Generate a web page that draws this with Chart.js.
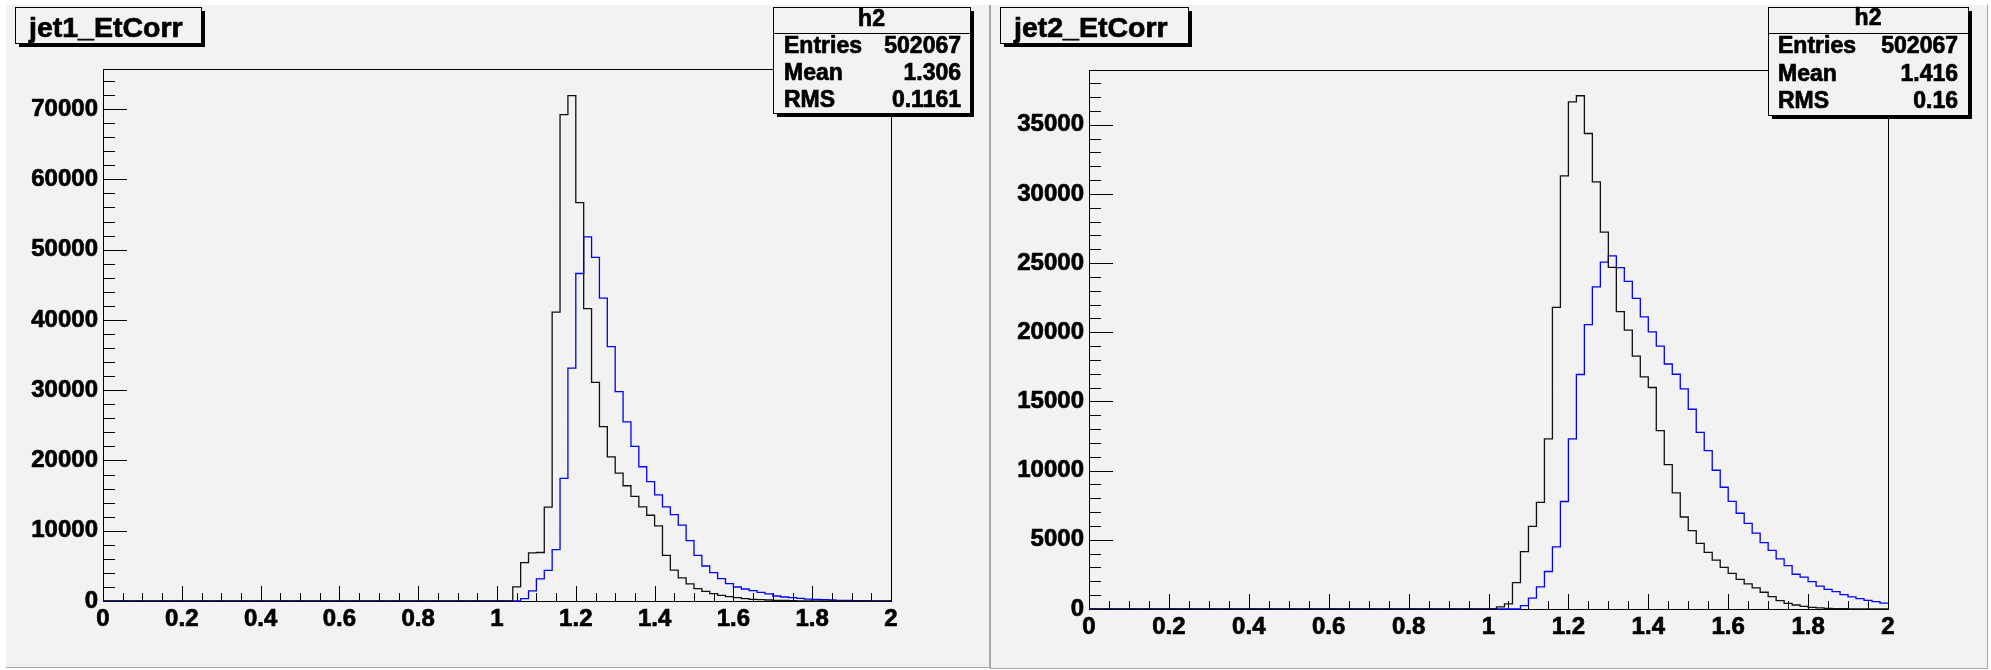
<!DOCTYPE html>
<html lang="en">
  <head>
    <meta charset="UTF-8" />
    <script src="https://cdn.jsdelivr.net/npm/chart.js@4.4.0/dist/chart.umd.min.js"></script>
    <title>jet EtCorr</title>
    <style>
      html, body { margin: 0; padding: 0; background: #fff; width: 1991px; height: 670px; overflow: hidden; }
      .pad { position: absolute; background: #f2f2f2; box-sizing: border-box; }
      #padL { left: 6px; top: 5px; width: 984px; height: 663px; border-right: 1px solid #a8a8a8; border-bottom: 1px solid #a8a8a8; }
      #padR { left: 990px; top: 5px; width: 998px; height: 664px; border-left: 1px solid #a8a8a8; border-right: 1px solid #a8a8a8; border-bottom: 1px solid #a8a8a8; }
      canvas { position: absolute; top: 0; }
    </style>
  </head>
  <body>
    <div class="pad" id="padL"></div>
    <div class="pad" id="padR"></div>
    <canvas id="c1" width="990" height="670" style="left:0"></canvas>
    <canvas id="c2" width="1001" height="670" style="left:990px"></canvas>
    <script>
      // histogram binning: 100 bins from 0 to 2
      const nBins = 100;
      const xMin = 0;
      const xMax = 2;
      const xTicks = [0, 0.2, 0.4, 0.6, 0.8, 1, 1.2, 1.4, 1.6, 1.8, 2];

      // jet1_EtCorr (bins 0..99)
      const jet1Black = [
        0, 0, 0, 0, 0, 0, 0, 0, 0, 0,
        0, 0, 0, 0, 0, 0, 0, 0, 0, 0,
        0, 0, 0, 0, 0, 0, 0, 0, 0, 0,
        0, 0, 0, 0, 0, 0, 0, 0, 0, 0,
        0, 0, 0, 0, 0, 0, 0, 0, 0, 0,
        0, 0, 2000, 5450, 6850, 6900, 13370, 41100, 69200, 71900,
        56700, 41600, 31100, 24800, 20500, 18200, 16400, 14900, 13400, 12200,
        10700, 6500, 4400, 3300, 2450, 1750, 1380, 1040, 800, 620,
        470, 330, 240, 190, 140, 100, 70, 50, 30, 20,
        10, 10, 0, 0, 0, 0, 0, 0, 0, 0
      ];
      const jet1Blue = [
        0, 0, 0, 0, 0, 0, 0, 0, 0, 0,
        0, 0, 0, 0, 0, 0, 0, 0, 0, 0,
        0, 0, 0, 0, 0, 0, 0, 0, 0, 0,
        0, 0, 0, 0, 0, 0, 0, 0, 0, 0,
        0, 0, 0, 0, 0, 0, 0, 0, 0, 0,
        0, 0, 0, 330, 1450, 3150, 4350, 7300, 17450, 33150,
        46600, 51800, 48900, 43100, 36200, 29800, 25500, 22000, 19100, 17000,
        15100, 13400, 12300, 10800, 8600, 6500, 4980, 4030, 3180, 2470,
        1990, 1710, 1470, 1230, 1000, 710, 570, 470, 380, 280,
        240, 190, 140, 100, 70, 50, 40, 30, 20, 10
      ];
      const jet1YMax = 75700;
      const jet1YTicks = [0, 10000, 20000, 30000, 40000, 50000, 60000, 70000];
      const jet1Stats = ["502067", "1.306", "0.1161"];

      // jet2_EtCorr (bins 0..99)
      const jet2Black = [
        0, 0, 0, 0, 0, 0, 0, 0, 0, 0,
        0, 0, 0, 0, 0, 0, 0, 0, 0, 0,
        0, 0, 0, 0, 0, 0, 0, 0, 0, 0,
        0, 0, 0, 0, 0, 0, 0, 0, 0, 0,
        0, 0, 0, 0, 0, 0, 0, 0, 0, 0,
        0, 150, 370, 1900, 4150, 5970, 7700, 12300, 21800, 31300,
        36650, 37100, 34370, 30880, 27240, 24700, 21500, 20160, 18280, 16780,
        16010, 12900, 10440, 8390, 6650, 5660, 4750, 4100, 3540, 3010,
        2580, 2140, 1810, 1520, 1210, 890, 600, 410, 290, 190,
        120, 80, 50, 30, 20, 10, 0, 0, 0, 0
      ];
      const jet2Blue = [
        0, 0, 0, 0, 0, 0, 0, 0, 0, 0,
        0, 0, 0, 0, 0, 0, 0, 0, 0, 0,
        0, 0, 0, 0, 0, 0, 0, 0, 0, 0,
        0, 0, 0, 0, 0, 0, 0, 0, 0, 0,
        0, 0, 0, 0, 0, 0, 0, 0, 0, 0,
        0, 0, 0, 0, 250, 790, 1600, 2710, 4490, 7770,
        12290, 16950, 20550, 23290, 25070, 25530, 24670, 23680, 22450, 21120,
        20030, 19000, 17710, 16970, 15910, 14440, 12770, 11450, 10030, 8800,
        7780, 6920, 6190, 5490, 4800, 4240, 3620, 3130, 2510, 2310,
        1980, 1660, 1420, 1250, 1040, 870, 750, 630, 530, 430
      ];
      const jet2YMax = 38960;
      const jet2YTicks = [0, 5000, 10000, 15000, 20000, 25000, 30000, 35000];
      const jet2Stats = ["502067", "1.416", "0.16"];

      const statsLabels = ["Entries", "Mean", "RMS"];
      const statsName = "h2";

      const FONT = "'Liberation Sans', Arial, Helvetica, sans-serif";
      const BG = "#f2f2f2";

      function steps(vals) {
        const binW = (xMax - xMin) / nBins;
        const pts = vals.map((v, i) => ({ x: xMin + i * binW, y: v }));
        pts.push({ x: xMax, y: vals[vals.length - 1] });
        return pts;
      }

      function pave(ctx, b) {
        ctx.fillStyle = "#000";
        ctx.fillRect(b.x + 4, b.y + 4, b.w, b.h);
        ctx.fillStyle = BG;
        ctx.fillRect(b.x, b.y, b.w, b.h);
        ctx.strokeStyle = "#000";
        ctx.lineWidth = 1;
        ctx.strokeRect(b.x + 0.5, b.y + 0.5, b.w, b.h);
      }

      // heavy text, like the blurred ROOT bold font
      function heavyText(ctx, txt, x, y) {
        ctx.lineWidth = 0.7;
        ctx.strokeText(txt, x, y);
        ctx.fillText(txt, x, y);
      }

      // ROOT-like frame, inward ticks, title pave and stats box
      const rootPad = {
        id: "rootPad",
        beforeDatasetsDraw(chart, args, o) {
          const ctx = chart.ctx;
          const a = chart.chartArea;
          const xs = chart.scales.x;
          const ys = chart.scales.y;
          ctx.save();
          ctx.strokeStyle = "#000";
          ctx.lineWidth = 1;
          ctx.strokeRect(a.left + 0.5, a.top + 0.5, a.right - a.left, a.bottom - a.top);
          ctx.beginPath();
          for (let i = 1; i * o.yMinor <= ys.max; i++) {
            const py = Math.round(ys.getPixelForValue(i * o.yMinor)) + 0.5;
            const len = i % o.yPer === 0 ? 24 : 12;
            ctx.moveTo(a.left, py);
            ctx.lineTo(a.left + len, py);
          }
          for (let i = 1; i * 0.05 < xs.max - 1e-9; i++) {
            const px = Math.round(xs.getPixelForValue(i * 0.05)) + 0.5;
            const len = i % 4 === 0 ? 15 : 8;
            ctx.moveTo(px, a.bottom);
            ctx.lineTo(px, a.bottom - len);
          }
          ctx.stroke();
          ctx.restore();
        },
        afterDraw(chart, args, o) {
          const ctx = chart.ctx;
          ctx.save();
          // title
          const t = o.titleBox;
          pave(ctx, t);
          ctx.fillStyle = "#000";
          ctx.strokeStyle = "#000";
          ctx.font = "bold 28.5px " + FONT;
          ctx.textAlign = "left";
          ctx.textBaseline = "alphabetic";
          heavyText(ctx, o.title, t.x + 14, t.y + 30);
          // stats
          const s = o.statsBox;
          pave(ctx, s);
          ctx.beginPath();
          ctx.moveTo(s.x, s.y + 26.5);
          ctx.lineTo(s.x + s.w, s.y + 26.5);
          ctx.stroke();
          ctx.font = "bold 23px " + FONT;
          ctx.fillStyle = "#000";
          ctx.textAlign = "center";
          heavyText(ctx, statsName, s.x + s.w / 2, s.y + s.hdr);
          for (let i = 0; i < statsLabels.length; i++) {
            ctx.textAlign = "left";
            heavyText(ctx, statsLabels[i], s.x + s.padL, s.y + s.rows[i]);
            ctx.textAlign = "right";
            heavyText(ctx, o.stats[i], s.x + s.w - s.padR, s.y + s.rows[i]);
          }
          ctx.restore();
        }
      };

      function makeHist(id, title, black, blue, yMax, yTicks, yMinor, yPer, stats, lay) {
        const tickFont = { family: FONT, size: 24, weight: "bold" };
        return new Chart(document.getElementById(id), {
          type: "line",
          data: {
            datasets: [
              { data: steps(black), borderColor: "#111", borderWidth: 1.3 },
              { data: steps(blue), borderColor: "#0000ff", borderWidth: 1.3 }
            ]
          },
          options: {
            responsive: false,
            animation: false,
            events: [],
            layout: { padding: { top: lay.top, right: lay.right, bottom: 0, left: 0 } },
            datasets: { line: { stepped: true, pointRadius: 0, fill: false, clip: false, tension: 0 } },
            scales: {
              x: {
                type: "linear",
                min: xMin,
                max: xMax,
                grid: { display: false, drawTicks: false, tickLength: 0 },
                border: { display: false },
                afterBuildTicks: (s) => { s.ticks = xTicks.map((v) => ({ value: v })); },
                afterFit: (s) => { s.height = lay.xh; },
                ticks: {
                  autoSkip: false, maxRotation: 0, minRotation: 0, padding: lay.xpad,
                  color: "#000", font: tickFont, textStrokeColor: "#000", textStrokeWidth: 0.7,
                  callback: (v) => String(v)
                }
              },
              y: {
                type: "linear",
                min: 0,
                max: yMax,
                grid: { display: false, drawTicks: false, tickLength: 0 },
                border: { display: false },
                afterBuildTicks: (s) => { s.ticks = yTicks.map((v) => ({ value: v })); },
                afterFit: (s) => { s.width = lay.yw; },
                ticks: {
                  autoSkip: false, padding: 5,
                  color: "#000", font: tickFont, textStrokeColor: "#000", textStrokeWidth: 0.7,
                  callback: (v) => String(v)
                }
              }
            },
            plugins: {
              legend: { display: false },
              tooltip: { enabled: false },
              rootPad: {
                title: title,
                stats: stats,
                yMinor: yMinor,
                yPer: yPer,
                titleBox: lay.titleBox,
                statsBox: lay.statsBox
              }
            }
          },
          plugins: [rootPad]
        });
      }

      makeHist("c1", "jet1_EtCorr", jet1Black, jet1Blue, jet1YMax, jet1YTicks, 2000, 5, jet1Stats, {
        top: 69, right: 99, yw: 103, xh: 69, xpad: 4,
        titleBox: { x: 15, y: 7, w: 186, h: 36 },
        statsBox: { x: 773, y: 7, w: 197, h: 106, hdr: 19, rows: [46, 73, 100], padL: 11, padR: 9 }
      });

      makeHist("c2", "jet2_EtCorr", jet2Black, jet2Blue, jet2YMax, jet2YTicks, 1000, 5, jet2Stats, {
        top: 70, right: 103, yw: 99, xh: 61, xpad: 4,
        titleBox: { x: 10, y: 7, w: 188, h: 36 },
        statsBox: { x: 778, y: 7, w: 200, h: 108, hdr: 18, rows: [46, 74, 101], padL: 10, padR: 10 }
      });
    </script>
  </body>
</html>
